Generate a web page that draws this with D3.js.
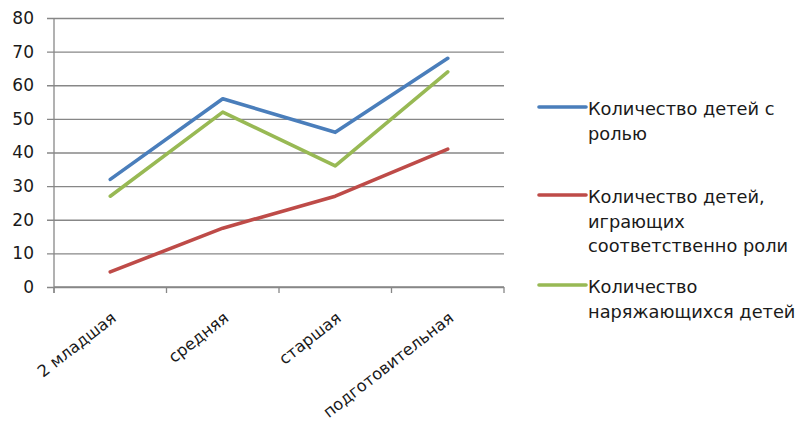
<!DOCTYPE html>
<html>
<head>
<meta charset="utf-8">
<script src="https://cdn.jsdelivr.net/npm/d3@7"></script>
<style>
  html, body { margin: 0; padding: 0; background: #fff; }
  svg text { font-family: "DejaVu Sans", sans-serif; fill: #1a1a1a; }
</style>
</head>
<body>
<svg id="chart" width="802" height="428"></svg>
<script>
// Groups along the x axis
const categories = ["2 младшая", "средняя", "старшая", "подготовительная"];

// Series values per group
const withRole = [32, 56, 46, 68];
const playingRole = [4.5, 17.5, 27, 41];
const dressingUp = [27, 52, 36, 64];

const yTicks = [0, 10, 20, 30, 40, 50, 60, 70, 80];

const seriesNames = [
  ["Количество детей с", "ролью"],
  ["Количество детей,", "играющих", "соответственно роли"],
  ["Количество", "наряжающихся детей"]
];
const seriesColors = ["#4a7ebb", "#be4b48", "#98b954"];
const seriesData = [withRole, playingRole, dressingUp];

const svg = d3.select("#chart");
const plot = { left: 54, right: 504, top: 18, bottom: 287 };

const x = d3.scaleBand().domain(categories).range([plot.left, plot.right]);
const y = d3.scaleLinear().domain([0, 80]).range([plot.bottom, plot.top]);

// Horizontal gridlines with left tick marks
const yAxis = d3.axisLeft(y).tickValues(yTicks).tickSize(-(plot.right - plot.left)).tickPadding(20);
const gy = svg.append("g").attr("transform", `translate(${plot.left},0)`).call(yAxis);
gy.select(".domain").remove();
gy.selectAll(".tick line").attr("stroke", "#878787").attr("stroke-width", 1.3).attr("x1", -7);
gy.selectAll(".tick text").attr("font-size", 17).attr("fill", "#1a1a1a")
  .style("font-family", "'DejaVu Sans', sans-serif");

// Vertical axis line
svg.append("line")
  .attr("x1", plot.left).attr("x2", plot.left)
  .attr("y1", plot.top).attr("y2", plot.bottom + 6)
  .attr("stroke", "#878787").attr("stroke-width", 1.3);

// Category axis with ticks at band boundaries
const xAxisG = svg.append("g");
xAxisG.append("line")
  .attr("x1", plot.left).attr("x2", plot.right)
  .attr("y1", plot.bottom).attr("y2", plot.bottom)
  .attr("stroke", "#878787").attr("stroke-width", 1.3);
const bounds = categories.map(c => x(c)).concat([x(categories[categories.length - 1]) + x.bandwidth()]);
xAxisG.selectAll("line.tk").data(bounds).join("line").attr("class", "tk")
  .attr("x1", d => d).attr("x2", d => d)
  .attr("y1", plot.bottom).attr("y2", plot.bottom + 6)
  .attr("stroke", "#878787").attr("stroke-width", 1.3);
xAxisG.selectAll("text").data(categories).join("text")
  .attr("text-anchor", "end")
  .attr("font-size", 16.3)
  .attr("transform", d => `translate(${x(d) + x.bandwidth() / 2 + 7},${plot.bottom + 33}) rotate(-38)`)
  .text(d => d);

// Series lines
const line = d3.line()
  .x((d, i) => x(categories[i]) + x.bandwidth() / 2)
  .y(d => y(d));
seriesData.forEach((vals, i) => {
  svg.append("path")
    .datum(vals)
    .attr("d", line)
    .attr("fill", "none")
    .attr("stroke", seriesColors[i])
    .attr("stroke-width", 3.6)
    .attr("stroke-linecap", "round")
    .attr("stroke-linejoin", "round");
});

// Legend
const legendY = [107, 195, 285];
const legend = svg.append("g");
seriesNames.forEach((lines, i) => {
  const ly = legendY[i];
  legend.append("line")
    .attr("x1", 539).attr("x2", 586)
    .attr("y1", ly).attr("y2", ly)
    .attr("stroke", seriesColors[i]).attr("stroke-width", 3.6)
    .attr("stroke-linecap", "round");
  const t = legend.append("text").attr("x", 588).attr("y", ly + 8).attr("font-size", 17.8);
  lines.forEach((s, j) => {
    t.append("tspan").attr("x", 588).attr("dy", j === 0 ? 0 : 24.5).text(s);
  });
});
</script>
</body>
</html>
